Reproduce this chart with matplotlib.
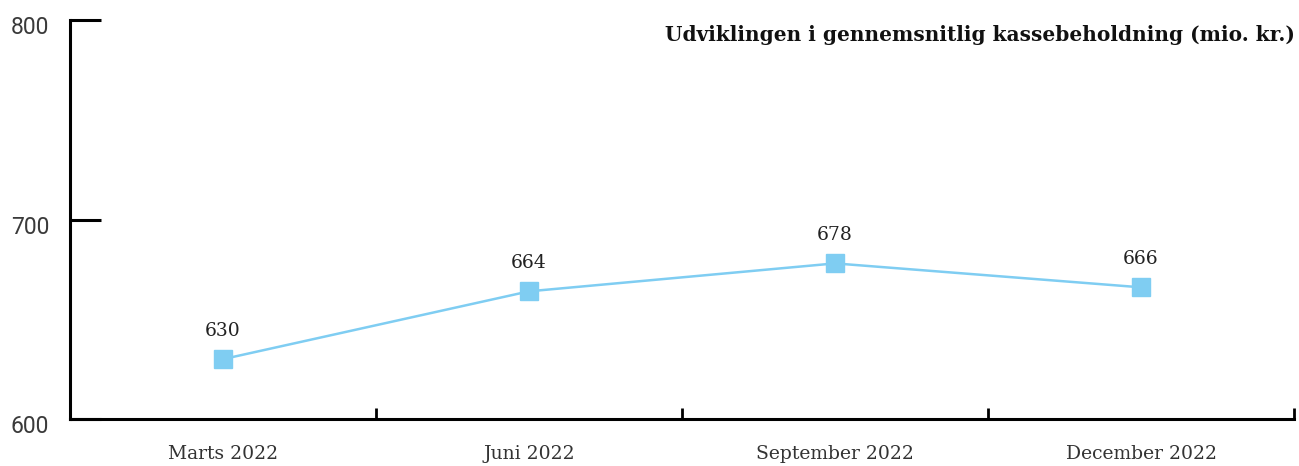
import matplotlib
matplotlib.use("Agg")
import matplotlib.pyplot as plt
import matplotlib.transforms as mtransforms
from matplotlib.ticker import FixedLocator

# data
quarters = ["Marts 2022", "Juni 2022", "September 2022", "December 2022"]
cash = [630, 664, 678, 666]
yticks = [600, 700, 800]
title = "Udviklingen i gennemsnitlig kassebeholdning (mio. kr.)"

BLUE = "#7fcdf2"
W, H = 1299, 466

fig = plt.figure(figsize=(W / 100, H / 100), dpi=100)
ax = fig.add_axes([70 / W, (H - 419) / H, (1294 - 70) / W, (419 - 20) / H])

x = range(len(quarters))
ax.plot(x, cash, color=BLUE, lw=1.8, marker="s", ms=13, mec=BLUE, mfc=BLUE, clip_on=False)
for xi, v in zip(x, cash):
    ax.annotate(str(v), (xi, v), xytext=(0, 14), textcoords="offset points",
                ha="center", va="bottom", fontsize=13.5, family="DejaVu Serif",
                color="#222222")

ax.set_xlim(-0.5, len(quarters) - 0.5)
ax.set_ylim(600, 800)
ax.set_yticks(yticks)
ax.set_yticklabels([str(t) for t in yticks], family="Roboto",
                   fontsize=16.5, color="#3a3a3a")
ax.set_xticks(list(x))
ax.set_xticklabels(quarters, family="DejaVu Serif", fontsize=13.5, color="#333333")
ax.xaxis.set_minor_locator(FixedLocator([i + 0.5 for i in x]))

ax.tick_params(axis="x", which="major", length=0, pad=19)
ax.tick_params(axis="x", which="minor", direction="in", length=8, width=2)
ax.tick_params(axis="y", direction="in", length=22, width=2.2, pad=15)

shift = mtransforms.ScaledTranslation(0, -5 / 100, fig.dpi_scale_trans)
for lab in ax.get_yticklabels():
    lab.set_transform(lab.get_transform() + shift)

for s in ("top", "right"):
    ax.spines[s].set_visible(False)
for s in ("left", "bottom"):
    ax.spines[s].set_linewidth(2.2)

fig.text(1295 / W, (H - 35) / H, title, ha="right", va="center",
         family="DejaVu Serif", fontweight="bold", fontsize=14.5, color="#111111")

fig.savefig("out.png", dpi=100)
